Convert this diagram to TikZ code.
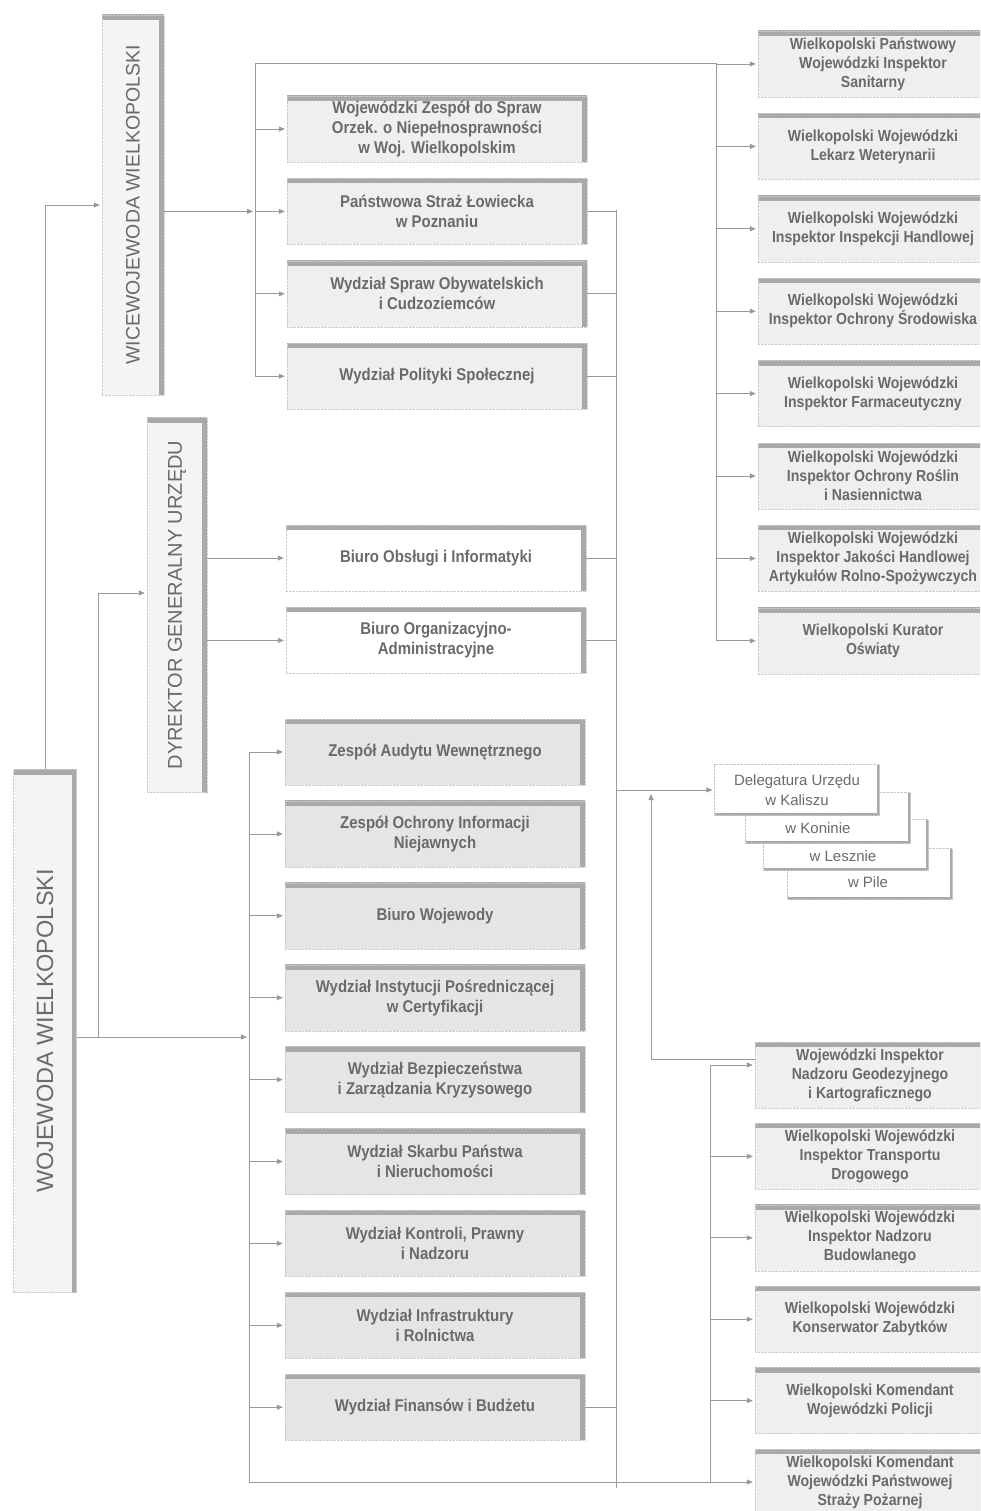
\documentclass[tikz,border=0pt]{standalone}
\usepackage{fontspec}
\setmainfont{Liberation Sans}
\newfontfamily\narrowfont[FakeStretch=0.88]{Liberation Sans}
\usepackage{tikz}
\usetikzlibrary{arrows.meta,positioning}

\definecolor{linegray}{HTML}{9A9A9A}
\definecolor{bargray}{HTML}{A9A9A9}
\definecolor{textgray}{HTML}{6A6A6A}
\definecolor{paleunit}{HTML}{EFEFEF}
\definecolor{darkunit}{HTML}{E5E5E5}

\begin{document}
\begin{tikzpicture}[x=1pt,y=1pt,
  link/.style={draw=linegray, line width=0.8pt},
  arr/.style={link, -{Triangle[length=6pt,width=5pt]}, shorten >=2pt},
  unit/.style={draw=gray!40, densely dotted, fill=paleunit, text=textgray,
    minimum width=300pt, minimum height=66pt, align=center, inner sep=2pt,
    font=\narrowfont\bfseries\fontsize{17}{20}\selectfont,
    path picture={\draw[bargray, line width=10pt, solid]
      (path picture bounding box.north west) -- (path picture bounding box.north east)
      -- (path picture bounding box.south east);}},
  plainunit/.style={unit, fill=white},
  deepunit/.style={unit, fill=darkunit},
  office/.style={unit, minimum width=230pt, font=\narrowfont\bfseries\fontsize{16}{19}\selectfont},
  headbox/.style={draw=gray!40, densely dotted, fill=paleunit!70!white,
    path picture={\draw[bargray, line width=10pt, solid]
      (path picture bounding box.north west) -- (path picture bounding box.north east)
      -- (path picture bounding box.south east);}},
  headtext/.style={rotate=90, text=textgray, font=\fontsize{20}{24}\selectfont},
  delbox/.style={draw=gray!45, densely dotted, fill=white,
    minimum width=165pt, minimum height=51pt, align=center, inner sep=2pt,
    text=textgray, font=\fontsize{15}{20}\selectfont,
    path picture={\draw[bargray, line width=6pt, solid]
      (path picture bounding box.south west) -- (path picture bounding box.south east)
      -- (path picture bounding box.north east);}},
  deltext/.style={text=textgray, font=\fontsize{15}{20}\selectfont}
  ]
  \useasboundingbox (0,0) rectangle (980,-1511);
  \fill[white] (0,0) rectangle (980,-1511);
  \clip (0,0) rectangle (980,-1511);

  \node[headbox, minimum width=63pt, minimum height=523pt] (woj) at (45,-1031) {};
  \node[headtext, font=\fontsize{23.5}{28}\selectfont] (wojtext) at (woj) {WOJEWODA WIELKOPOLSKI};
  \node[headbox, minimum width=62pt, minimum height=380pt] (wice) at (133,-205) {};
  \node[headtext, font=\fontsize{19.5}{24}\selectfont] (wicetext) at (wice) {WICEWOJEWODA WIELKOPOLSKI};
  \node[headbox, minimum width=60pt, minimum height=375pt] (dyr) at (177,-605) {};
  \node[headtext] (dyrtext) at (dyr) {DYREKTOR GENERALNY URZĘDU};

  \begin{scope}[node distance=16pt]
    \node[unit] (u1) at (437,-129) {Wojewódzki Zespół do Spraw\\Orzek. o Niepełnosprawności\\w Woj. Wielkopolskim};
    \node[unit, below=of u1] (u2) {Państwowa Straż Łowiecka\\w Poznaniu};
    \node[unit, below=of u2] (u3) {Wydział Spraw Obywatelskich\\i Cudzoziemców};
    \node[unit, below=of u3] (u4) {Wydział Polityki Społecznej};
    \node[plainunit] (u5) at (436,-558) {Biuro Obsługi i Informatyki};
    \node[plainunit, below=of u5] (u6) {Biuro Organizacyjno-\\Administracyjne};
  \end{scope}

  \begin{scope}[node distance=15.5pt]
    \node[deepunit] (u7) at (435,-752) {Zespół Audytu Wewnętrznego};
    \node[deepunit, below=of u7] (u8) {Zespół Ochrony Informacji\\Niejawnych};
    \node[deepunit, below=of u8] (u9) {Biuro Wojewody};
    \node[deepunit, below=of u9] (u10) {Wydział Instytucji Pośredniczącej\\w Certyfikacji};
    \node[deepunit, below=of u10] (u11) {Wydział Bezpieczeństwa\\i Zarządzania Kryzysowego};
    \node[deepunit, below=of u11] (u12) {Wydział Skarbu Państwa\\i Nieruchomości};
    \node[deepunit, below=of u12] (u13) {Wydział Kontroli, Prawny\\i Nadzoru};
    \node[deepunit, below=of u13] (u14) {Wydział Infrastruktury\\i Rolnictwa};
    \node[deepunit, below=of u14] (u15) {Wydział Finansów i Budżetu};
  \end{scope}

  \begin{scope}[node distance=16pt]
    \node[office] (r1) at (873,-64) {Wielkopolski Państwowy\\Wojewódzki Inspektor\\Sanitarny};
    \node[office, below=of r1] (r2) {Wielkopolski Wojewódzki\\Lekarz Weterynarii};
    \node[office, below=of r2] (r3) {Wielkopolski Wojewódzki\\Inspektor Inspekcji Handlowej};
    \node[office, below=of r3] (r4) {Wielkopolski Wojewódzki\\Inspektor Ochrony Środowiska};
    \node[office, below=of r4] (r5) {Wielkopolski Wojewódzki\\Inspektor Farmaceutyczny};
    \node[office, below=of r5] (r6) {Wielkopolski Wojewódzki\\Inspektor Ochrony Roślin\\i Nasiennictwa};
    \node[office, below=of r6] (r7) {Wielkopolski Wojewódzki\\Inspektor Jakości Handlowej\\Artykułów Rolno-Spożywczych};
    \node[office, below=of r7] (r8) {Wielkopolski Kurator\\Oświaty};
  \end{scope}

  \begin{scope}[node distance=15pt]
    \node[office] (b1) at (870,-1075) {Wojewódzki Inspektor\\Nadzoru Geodezyjnego\\i Kartograficznego};
    \node[office, below=of b1] (b2) {Wielkopolski Wojewódzki\\Inspektor Transportu\\Drogowego};
    \node[office, below=of b2] (b3) {Wielkopolski Wojewódzki\\Inspektor Nadzoru\\Budowlanego};
    \node[office, below=of b3] (b4) {Wielkopolski Wojewódzki\\Konserwator Zabytków};
    \node[office, below=of b4] (b5) {Wielkopolski Komendant\\Wojewódzki Policji};
    \node[office, below=of b5] (b6) {Wielkopolski Komendant\\Wojewódzki Państwowej\\Straży Pożarnej};
  \end{scope}

  \node[delbox] (pil) at (870,-874) {};
  \node[deltext] (piltext) at (868,-882) {w Pile};
  \node[delbox] (les) at (846,-845) {};
  \node[deltext] (lestext) at (843,-856) {w Lesznie};
  \node[delbox] (kon) at (828,-818) {};
  \node[deltext] (kontext) at (818,-828) {w Koninie};
  \node[delbox] (kal) at (797,-790) {Delegatura Urzędu\\w Kaliszu};

  \coordinate (vbus) at (255,-63);
  \coordinate (rbus) at (716,-63);
  \coordinate (sbus) at (616,-210);
  \coordinate (send) at (616,-1488);
  \coordinate (mbus) at (249,-752);
  \coordinate (fork) at (98,-1037);
  \coordinate (bbus) at (710,-1065);
  \coordinate (geo) at (651,-1059);
  \coordinate (geotip) at (651,-792);

  \draw[arr] (woj.north) |- (wice.west);
  \draw[arr] (wice.east |- u2.west) -- (vbus |- u2.west);
  \draw[link] (rbus) -- (vbus) -- (vbus |- u4.west);
  \draw[link] (rbus) -- (rbus |- r8.west);
  \foreach \n in {u1,u2,u3,u4}
    \draw[arr] (vbus |- \n.west) -- (\n.west);
  \foreach \n in {r1,r2,r3,r4,r5,r6,r7,r8}
    \draw[arr] (rbus |- \n.west) -- (\n.west);

  \draw[arr] (woj.east |- fork) -- (mbus |- fork);
  \draw[arr] (fork) |- ([yshift=12pt]dyr.west);
  \draw[arr] (dyr.east |- u5.west) -- (u5.west);
  \draw[arr] (dyr.east |- u6.west) -- (u6.west);

  \draw[arr] (mbus) -- (mbus |- b6.west) -- (b6.west);
  \foreach \n in {u7,u8,u9,u10,u11,u12,u13,u14,u15}
    \draw[arr] (mbus |- \n.west) -- (\n.west);
  \draw[link] (bbus |- b6.west) -- (bbus);
  \draw[arr] (bbus) -- (b1.west |- bbus);
  \foreach \n in {b2,b3,b4,b5}
    \draw[arr] (bbus |- \n.west) -- (\n.west);

  \draw[link] (sbus) -- (send);
  \foreach \n in {u2,u3,u4,u5,u6,u15}
    \draw[link] (\n.east) -- (sbus |- \n.east);
  \draw[arr] (sbus |- kal.west) -- (kal.west);
  \draw[arr] (b1.west |- geo) -- (geo) -- (geotip);
\end{tikzpicture}
\end{document}
